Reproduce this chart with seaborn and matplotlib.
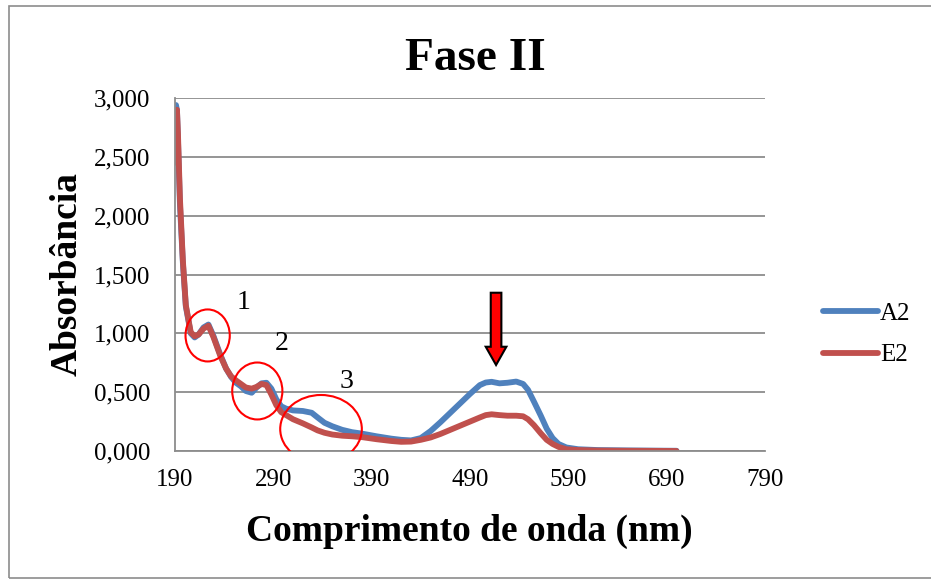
import matplotlib
matplotlib.use("Agg")
import matplotlib.pyplot as plt
import matplotlib.patches as mpatches
from matplotlib.lines import Line2D
import numpy as np
import pandas as pd
import seaborn as sns

# ---------------- data ----------------
wavelength = [190, 191, 192, 193, 195, 198, 201, 206, 210, 214, 219, 224, 229, 236,
              242, 247, 252, 257, 262, 268, 273, 278, 283, 288, 293, 298, 303, 310,
              320, 329, 335, 342, 350, 360, 370, 380, 395, 410, 420, 430, 440, 450,
              460, 470, 480, 490, 500, 506, 512, 520, 528, 537, 544, 549, 555, 562,
              568, 574, 580, 588, 600, 620, 650, 680, 700]

a2 = [2600, 2940, 2900, 2650, 2100, 1600, 1230, 1000, 965, 990, 1050, 1075, 980, 820,
      700, 630, 580, 550, 510, 495, 540, 575, 580, 530, 440, 380, 360, 345,
      340, 325, 285, 240, 210, 180, 160, 148, 125, 105, 95, 90, 110, 170,
      245, 325, 405, 485, 560, 582, 588, 575, 580, 590, 570, 520, 420, 300,
      190, 110, 60, 30, 15, 8, 5, 3, 2]

e2 = [2450, 2750, 2900, 2700, 2150, 1620, 1240, 1010, 975, 990, 1040, 1065, 970, 810,
      700, 635, 600, 570, 540, 530, 545, 570, 560, 480, 390, 330, 305, 270,
      235, 200, 175, 155, 140, 130, 125, 118, 100, 85, 78, 80, 95, 115,
      145, 180, 215, 250, 285, 305, 312, 305, 300, 300, 295, 270, 220, 150,
      95, 60, 35, 15, 8, 4, 2, 1, 0]

series_names = ["A2", "E2"]
series_colors = ["#4F81BD", "#C0504D"]

x_ticks = [190, 290, 390, 490, 590, 690, 790]
y_ticks = [0, 500, 1000, 1500, 2000, 2500, 3000]
y_tick_labels = ["0,000", "0,500", "1,000", "1,500", "2,000", "2,500", "3,000"]

title = "Fase II"
x_label = "Comprimento de onda (nm)"
y_label = "Absorbância"

# annotation markers (centre nm, centre value, width nm, height value)
circles = [(223.2, 982, 45, 442), (273.7, 510, 51, 484), (338.5, 187, 83, 578)]
circle_labels = [("1", 260, 1207), ("2", 299, 858), ("3", 364, 535)]
arrow_x, arrow_top, arrow_head, arrow_tip = 516.5, 1345, 886, 731

# ---------------- plot ----------------
sns.set_style("white")
plt.rcParams["font.family"] = ["Liberation Serif", "DejaVu Serif"]
plt.rcParams["text.color"] = "black"
plt.rcParams["axes.labelcolor"] = "black"

W, H = 931, 581
fig = plt.figure(figsize=(W / 100, H / 100), dpi=100)
ax = fig.add_axes([175 / W, 1 - 451 / H, (765 - 175) / W, (451 - 98) / H])

df = pd.DataFrame({
    "wl": wavelength * 2,
    "abs": a2 + e2,
    "serie": ["A2"] * len(a2) + ["E2"] * len(e2),
})
sns.lineplot(data=df, x="wl", y="abs", hue="serie", palette=series_colors,
             hue_order=series_names, sort=False, estimator=None, ax=ax,
             linewidth=4.2, legend=False)
for ln in ax.lines:
    ln.set_solid_capstyle("round")
    ln.set_solid_joinstyle("round")

ax.set_xlim(190, 790)
ax.set_ylim(0, 3000)
ax.set_xticks(x_ticks)
ax.set_xticklabels([str(t) for t in x_ticks])
ax.set_yticks(y_ticks)
ax.set_yticklabels(y_tick_labels)
ax.tick_params(axis="both", length=0, labelsize=18, colors="black")
ax.tick_params(axis="y", pad=18)
ax.tick_params(axis="x", pad=13)
ax.yaxis.grid(True, color="#8c8c8c", linewidth=1.3)
ax.xaxis.grid(False)
ax.set_axisbelow(True)
for s in ["top", "right"]:
    ax.spines[s].set_visible(False)
for s in ["left", "bottom"]:
    ax.spines[s].set_color("#8c8c8c")
    ax.spines[s].set_linewidth(1.3)
ax.set_xlabel("")
ax.set_ylabel("")

# circles and labels
for (cx, cy, w, h) in circles:
    ax.add_patch(mpatches.Ellipse((cx, cy), w, h, fill=False, edgecolor="#ff0000",
                                  linewidth=1.5, zorder=5))
for (txt, tx, ty) in circle_labels:
    ax.text(tx, ty, txt, fontsize=20, ha="center", va="baseline", color="black")

# arrow
sw, hw = 5.4, 10.5
arrow_poly = [(arrow_x - sw, arrow_top), (arrow_x + sw, arrow_top),
              (arrow_x + sw, arrow_head), (arrow_x + hw, arrow_head),
              (arrow_x, arrow_tip), (arrow_x - hw, arrow_head),
              (arrow_x - sw, arrow_head)]
ax.add_patch(mpatches.Polygon(arrow_poly, closed=True, facecolor="#ff0000",
                              edgecolor="black", linewidth=1.5, zorder=6,
                              clip_on=False))

# legend
handles = [Line2D([0], [0], color=c, linewidth=4.2, solid_capstyle="round")
           for c in series_colors]
leg = fig.legend(handles, series_names, loc="center left",
                 bbox_to_anchor=(810 / W, 1 - 334.5 / H), frameon=False, fontsize=18,
                 handlelength=2.2, handletextpad=0.1, labelspacing=0.75, borderpad=0)
for t in leg.get_texts():
    t.set_color("black")

# titles
fig.text(475 / W, 1 - 70 / H, title, fontsize=34, fontweight="bold",
         ha="center", va="baseline", color="black")
fig.text(469 / W, 1 - 540.5 / H, x_label, fontsize=27, fontweight="bold",
         ha="center", va="baseline", color="black")
fig.text(77 / W, 1 - 274 / H, y_label, fontsize=27, fontweight="bold",
         ha="center", va="baseline", rotation=90, rotation_mode="anchor",
         color="black")

# outer chart border
fig.patches.append(mpatches.Rectangle((8.5 / W, 1 - 578 / H), 1.2, (578 - 5.7) / H,
                                      transform=fig.transFigure, fill=False,
                                      edgecolor="#8c8c8c", linewidth=1.2))

fig.savefig("out.png", dpi=100)
